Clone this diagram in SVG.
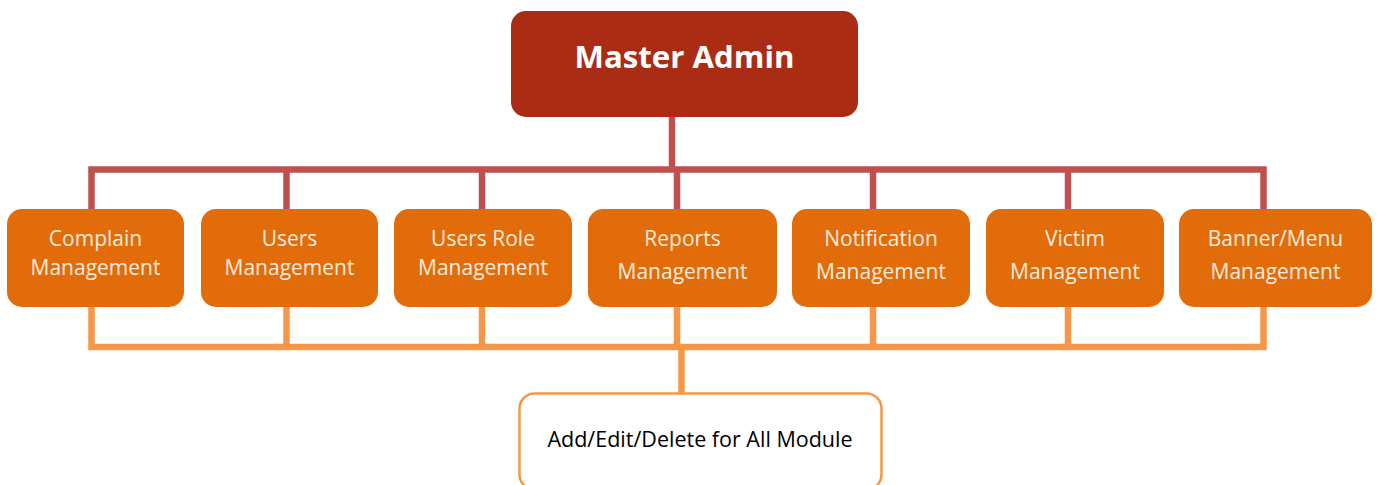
<svg xmlns="http://www.w3.org/2000/svg" width="1379" height="485" viewBox="0 0 1379 485">
<style>
.red{fill:none;stroke:#C0504D;stroke-width:6.5;stroke-linejoin:miter;stroke-linecap:butt}
.org{fill:none;stroke:#F79646;stroke-width:6.5;stroke-linejoin:miter;stroke-linecap:butt}
.mod{fill:#E36C0A}
.mt{font-family:"Open Sans","Liberation Sans",sans-serif;font-size:21px;fill:#FAEBDD;text-anchor:middle}
.root{fill:#AB2C14}
.rt{font-family:"Open Sans","Liberation Sans",sans-serif;font-size:31.2px;font-weight:bold;fill:#FFFFFF;text-anchor:middle}
.leaf{fill:#FFFFFF;stroke:#F79646;stroke-width:2.5}
.lt{font-family:"Open Sans","Liberation Sans",sans-serif;font-size:21.5px;fill:#000000;text-anchor:middle}
</style>
<rect width="1379" height="485" fill="#FFFFFF"/>
<g id="connectors">
<path class="red" d="M672,117 V169.5"/>
<path class="red" d="M91.5,209 V169.5 H1263.5 V209"/>
<path class="red" d="M286.5,169.5 V209 M482,169.5 V209 M677,169.5 V209 M873,169.5 V209 M1068,169.5 V209"/>
<path class="org" d="M91.5,307 V347 H1263.5 V307"/>
<path class="org" d="M286.5,307 V347 M482,307 V347 M677,307 V347 M873,307 V347 M1068,307 V347"/>
<path class="org" d="M681.5,347 V393"/>
</g>
<g id="master-admin">
<rect class="root" x="511" y="11" width="347" height="106" rx="15"/>
<text class="rt" x="684.5" y="68">Master Admin</text>
</g>
<g id="complain-management">
<rect class="mod" x="7" y="209" width="177" height="98" rx="15"/>
<text class="mt" x="95.5" y="246">Complain</text>
<text class="mt" x="95.5" y="275">Management</text>
</g>
<g id="users-management">
<rect class="mod" x="201" y="209" width="177" height="98" rx="15"/>
<text class="mt" x="289.5" y="246">Users</text>
<text class="mt" x="289.5" y="275">Management</text>
</g>
<g id="users-role-management">
<rect class="mod" x="394" y="209" width="178" height="98" rx="15"/>
<text class="mt" x="483" y="246">Users Role</text>
<text class="mt" x="483" y="275">Management</text>
</g>
<g id="reports-management">
<rect class="mod" x="588" y="209" width="189" height="98" rx="15"/>
<text class="mt" x="682.5" y="246">Reports</text>
<text class="mt" x="682.5" y="279">Management</text>
</g>
<g id="notification-management">
<rect class="mod" x="792" y="209" width="178" height="98" rx="15"/>
<text class="mt" x="881" y="246">Notification</text>
<text class="mt" x="881" y="279">Management</text>
</g>
<g id="victim-management">
<rect class="mod" x="986" y="209" width="178" height="98" rx="15"/>
<text class="mt" x="1075" y="246">Victim</text>
<text class="mt" x="1075" y="279">Management</text>
</g>
<g id="banner-menu-management">
<rect class="mod" x="1179" y="209" width="193" height="98" rx="15"/>
<text class="mt" x="1275.5" y="246">Banner/Menu</text>
<text class="mt" x="1275.5" y="279">Management</text>
</g>
<g id="add-edit-delete">
<rect class="leaf" x="519.5" y="393.5" width="362" height="96" rx="15"/>
<text class="lt" x="700" y="446.5">Add/Edit/Delete for All Module</text>
</g>
</svg>
